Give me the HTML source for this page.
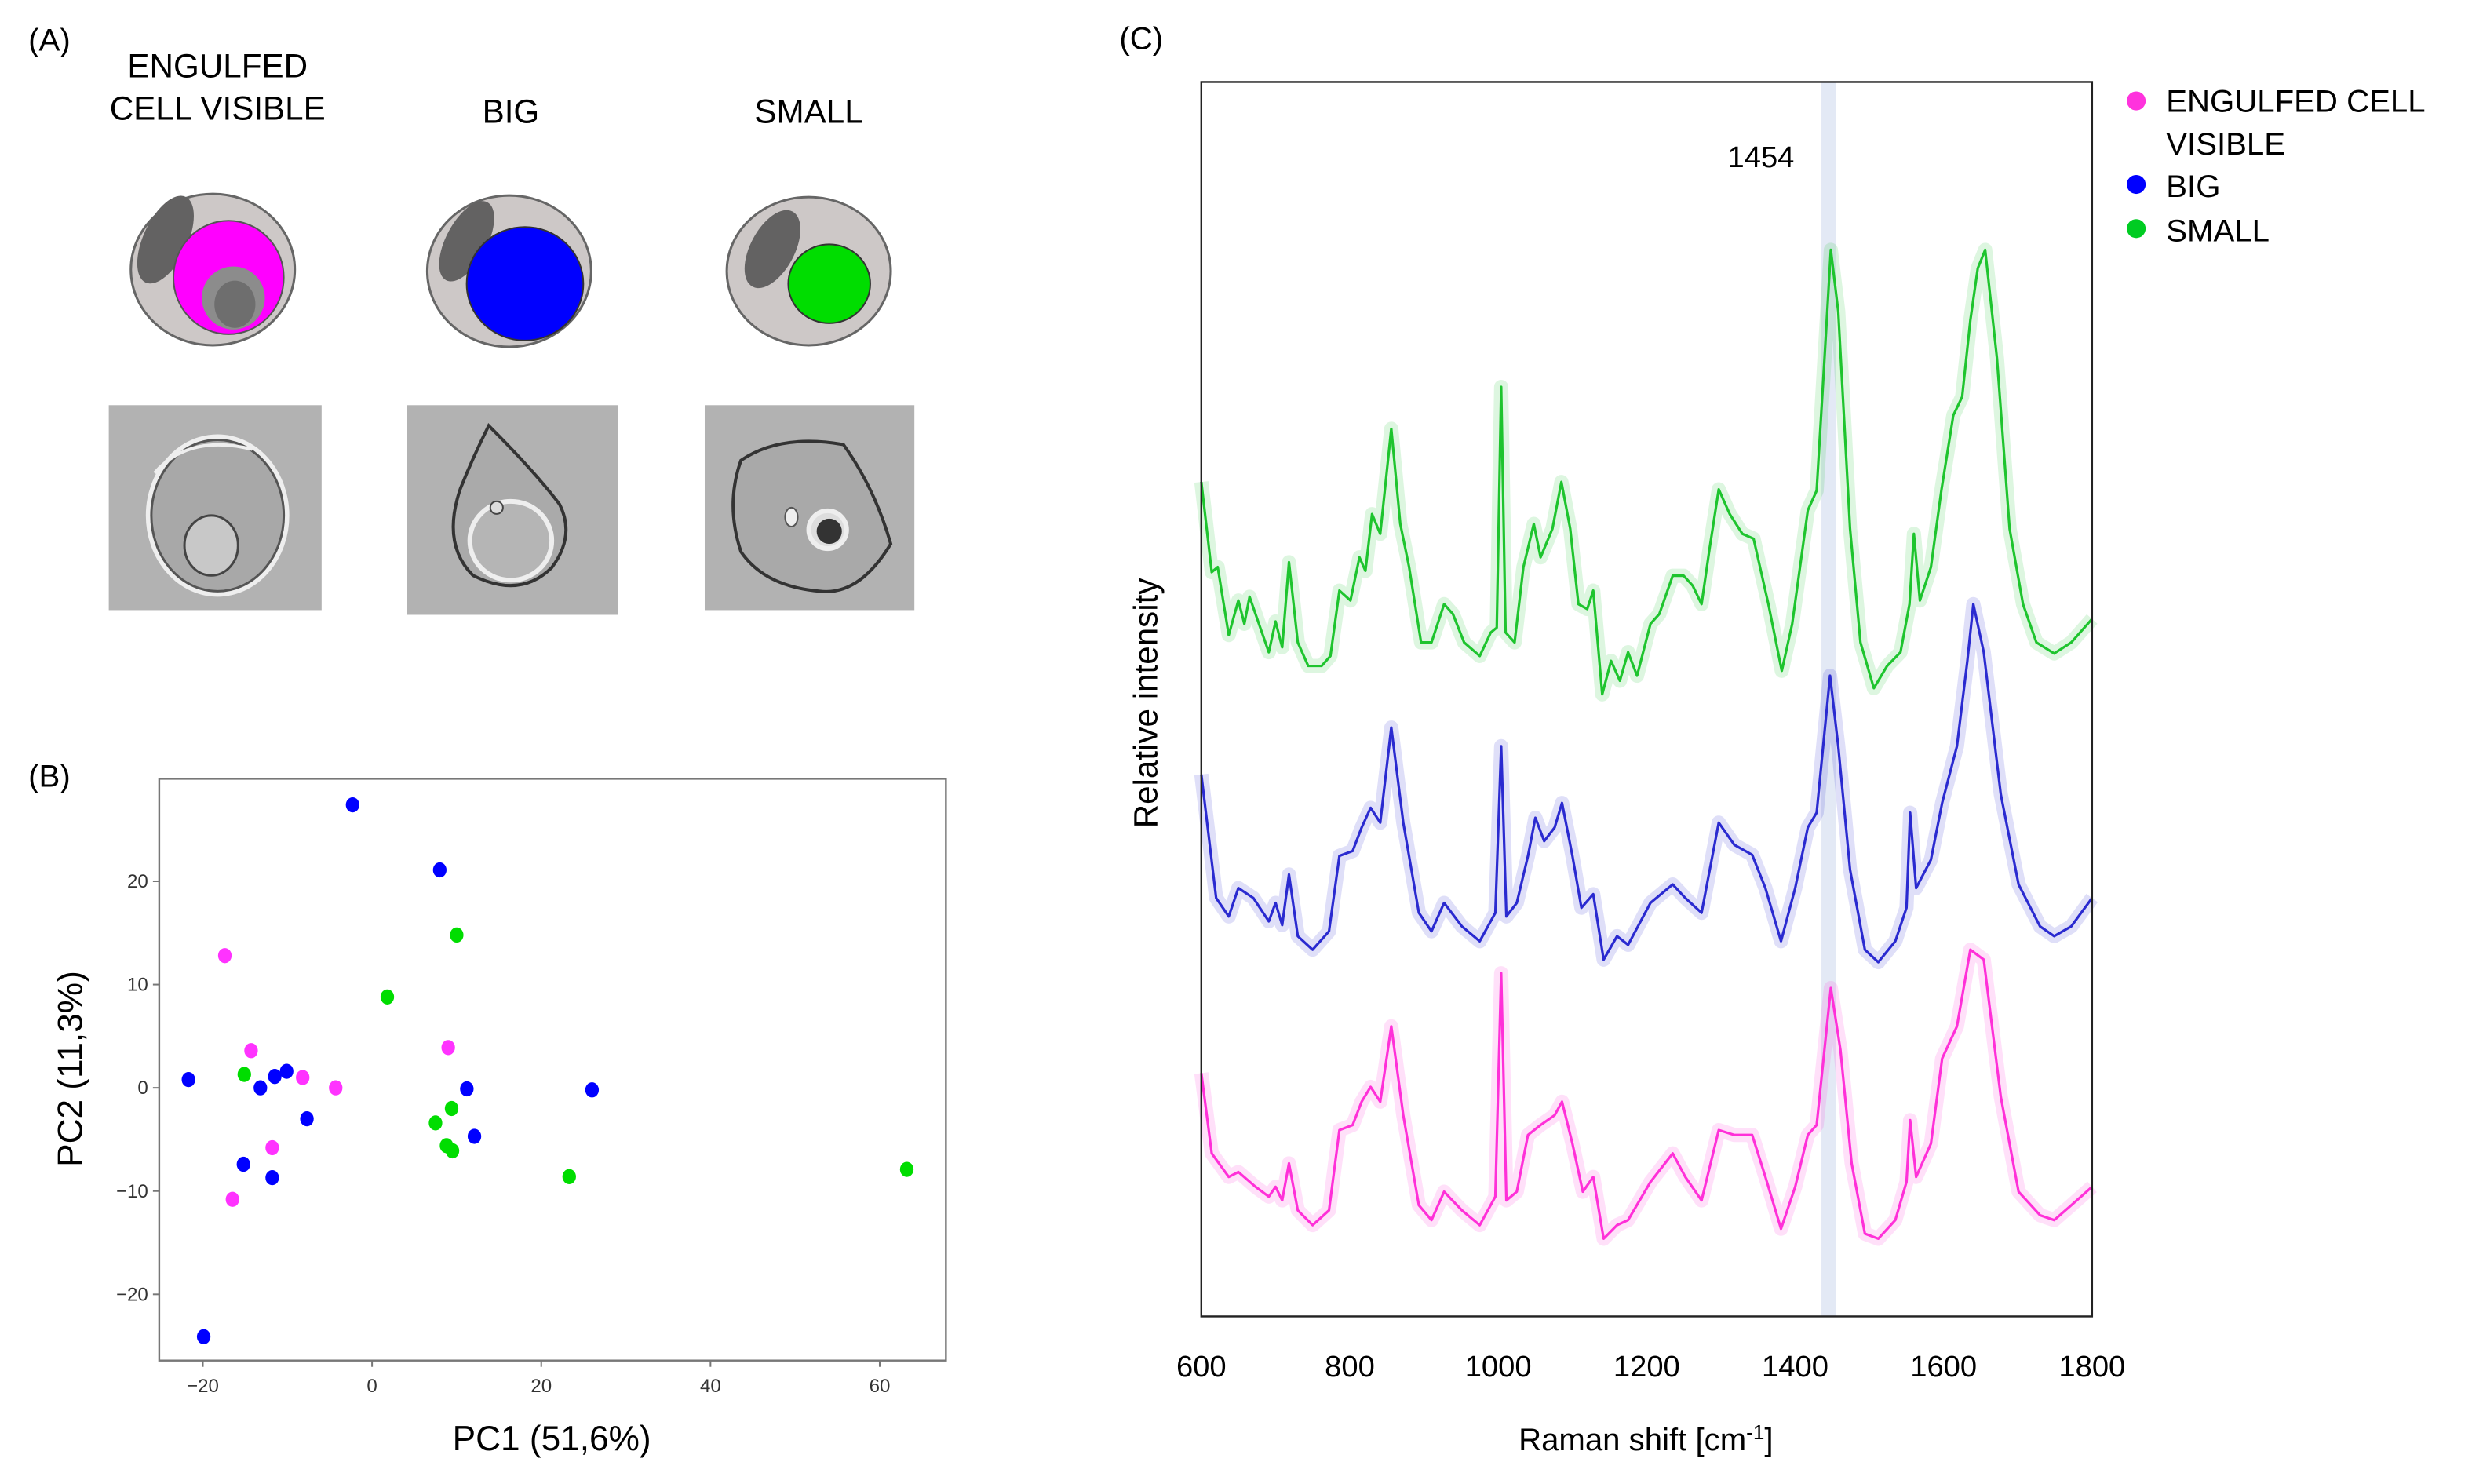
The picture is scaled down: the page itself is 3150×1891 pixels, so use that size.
<!DOCTYPE html>
<html><head><meta charset="utf-8"><style>
html,body{margin:0;padding:0;background:#fff;}
svg{display:block;font-family:"Liberation Sans",sans-serif;}
</style></head><body>
<svg id="fig" width="3150" height="1891" viewBox="0 0 1568 941.3" xmlns="http://www.w3.org/2000/svg">
<!-- Panel A -->
<g>
<text x="18" y="32" font-size="20">(A)</text>
<text x="138" y="49" font-size="21" text-anchor="middle">ENGULFED</text>
<text x="138" y="76" font-size="21" text-anchor="middle">CELL VISIBLE</text>
<text x="324" y="78" font-size="21" text-anchor="middle">BIG</text>
<text x="513" y="78" font-size="21" text-anchor="middle">SMALL</text>

<g>
<ellipse cx="135" cy="171" rx="52" ry="48" fill="#cdc8c7" stroke="#666" stroke-width="1.5"/>
<ellipse cx="105" cy="152" rx="14" ry="30" transform="rotate(25 105 152)" fill="#636262"/>
<ellipse cx="145" cy="176" rx="35" ry="36" fill="#ff00ff" stroke="#555" stroke-width="1"/>
<ellipse cx="148" cy="189" rx="20" ry="20" fill="#8c8c8c"/>
<ellipse cx="149" cy="193" rx="13" ry="15" fill="#6e6e6e"/>
</g>
<g>
<ellipse cx="323" cy="172" rx="52" ry="48" fill="#cdc8c7" stroke="#666" stroke-width="1.5"/>
<ellipse cx="296" cy="153" rx="13" ry="28" transform="rotate(28 296 153)" fill="#636262"/>
<ellipse cx="333" cy="180" rx="37" ry="36" fill="#0000ff" stroke="#333" stroke-width="1"/>
</g>
<g>
<ellipse cx="513" cy="172" rx="52" ry="47" fill="#cdc8c7" stroke="#666" stroke-width="1.5"/>
<ellipse cx="490" cy="158" rx="14" ry="27" transform="rotate(28 490 158)" fill="#636262"/>
<ellipse cx="526" cy="180" rx="26" ry="25" fill="#00dd00" stroke="#333" stroke-width="1"/>
</g>

<g>
<rect x="69" y="257" width="135" height="130" fill="#b2b2b2"/>
<ellipse cx="138" cy="327" rx="44" ry="50" fill="#a8a8a8" stroke="#eee" stroke-width="3"/>
<ellipse cx="138" cy="327" rx="42" ry="48" fill="none" stroke="#555" stroke-width="1.5"/>
<ellipse cx="134" cy="346" rx="17" ry="19" fill="#c8c8c8" stroke="#444" stroke-width="1.5"/>
<path d="M98 300 Q120 275 160 285" fill="none" stroke="#eee" stroke-width="2"/>
</g>
<g>
<rect x="258" y="257" width="134" height="133" fill="#b2b2b2"/>
<path d="M310 270 Q300 290 292 310 Q280 345 300 365 Q330 380 350 360 Q365 340 355 320 Q340 300 310 270 Z" fill="#aaa" stroke="#333" stroke-width="2"/>
<ellipse cx="324" cy="343" rx="26" ry="25" fill="#b5b5b5" stroke="#eee" stroke-width="3"/>
<circle cx="315" cy="322" r="4" fill="#ddd" stroke="#444"/>
</g>
<g>
<rect x="447" y="257" width="133" height="130" fill="#b2b2b2"/>
<path d="M470 292 Q495 275 535 282 Q555 310 565 345 Q545 378 520 375 Q485 372 470 350 Q460 320 470 292 Z" fill="#a9a9a9" stroke="#333" stroke-width="2"/>
<circle cx="525" cy="336" r="12" fill="#ddd" stroke="#eee" stroke-width="3"/>
<circle cx="526" cy="337" r="8" fill="#333"/>
<ellipse cx="502" cy="328" rx="4" ry="6" fill="#eee" stroke="#555"/>
</g>
</g>

<!-- Panel B -->
<g>
<text x="18" y="499" font-size="20">(B)</text>
<rect x="101" y="494" width="499" height="369" fill="none" stroke="#777" stroke-width="1.2"/>
<g id="bticks"></g>
<g id="bpts"></g>
<text x="350" y="920" font-size="22" text-anchor="middle">PC1 (51,6%)</text>
<text transform="translate(52 678) rotate(-90)" font-size="22" text-anchor="middle">PC2 (11,3%)</text>
</g>

<!-- Panel C -->
<g>
<text x="710" y="31" font-size="20">(C)</text>
<rect id="band" fill="#e3e9f5"/>
<g id="cser"></g>
<rect x="762" y="52" width="565" height="783" fill="none" stroke="#222" stroke-width="1.2"/>
<g id="cticks"></g>
<text x="1117" y="106" font-size="19" text-anchor="middle">1454</text>
<text x="1044" y="920" font-size="20" text-anchor="middle">Raman shift [cm<tspan dy="-7" font-size="13">-1</tspan><tspan dy="7">]</tspan></text>
<text transform="translate(734 446) rotate(-90)" font-size="21" text-anchor="middle">Relative intensity</text>
<g>
<circle cx="1355" cy="64" r="6" fill="#ff33dd"/>
<text x="1374" y="71" font-size="20">ENGULFED CELL</text>
<text x="1374" y="98" font-size="20">VISIBLE</text>
<circle cx="1355" cy="117" r="6" fill="#0000ff"/>
<text x="1374" y="125" font-size="20">BIG</text>
<circle cx="1355" cy="145" r="6" fill="#00cc22"/>
<text x="1374" y="153" font-size="20">SMALL</text>
</g>
</g>
</svg>
<script>
const NS="http://www.w3.org/2000/svg";
// ---- Panel B data ----
const pcXTicks=[-20,0,20,40,60];
const pcYTicks=[20,10,0,-10,-20];
const bigPC1=[-2.3,8.0,-21.7,-13.2,-11.5,-10.1,-7.7,-15.2,-11.8,-19.9,11.2,12.1,26.0];
const bigPC2=[27.4,21.1,0.8,0,1.1,1.6,-3.0,-7.4,-8.7,-24.1,-0.1,-4.7,-0.2];
const engPC1=[-17.4,-14.3,-8.2,-4.3,9.0,-11.8,-16.5];
const engPC2=[12.8,3.6,1.0,0,3.9,-5.8,-10.8];
const smallPC1=[10.0,1.8,-15.1,7.5,9.4,8.8,9.5,23.3,63.2];
const smallPC2=[14.8,8.8,1.3,-3.4,-2.0,-5.6,-6.1,-8.6,-7.9];
// ---- Panel C data ----
const ramanTicks=[600,800,1000,1200,1400,1600,1800];
const peakShift=[1445];
const smallW=[600,614,622,637,650,658,665,673,691,700,709,718,730,744,762,774,786,801,813,821,830,841,856,868,880,896,910,927,939,954,975,990,998,1004,1010,1022,1034,1048,1057,1073,1085,1097,1108,1120,1128,1140,1152,1164,1175,1187,1205,1217,1235,1250,1262,1274,1285,1297,1312,1329,1344,1364,1382,1396,1417,1429,1438,1448,1458,1474,1488,1506,1524,1542,1554,1560,1568,1583,1597,1613,1625,1636,1646,1656,1672,1689,1707,1725,1749,1772,1800];
const smallI=[67.6,60.3,60.7,55.2,58.0,56.1,58.3,56.9,53.8,56.3,54.2,61.1,54.6,52.7,52.7,53.5,58.8,58.0,61.5,60.4,65.0,63.4,71.9,64.2,60.7,54.6,54.6,57.7,56.9,54.6,53.5,55.4,55.8,75.3,55.4,54.6,60.7,64.2,61.5,63.8,67.6,63.8,57.7,57.3,58.8,50.4,53.1,51.5,53.8,51.9,56.1,56.9,60.0,60.0,59.2,57.7,62.3,67.0,65.0,63.4,63.0,57.7,52.3,56.1,65.3,66.9,76.1,86.4,81.4,63.8,54.6,50.9,52.7,53.8,57.7,63.4,58.0,60.7,66.9,73.0,74.5,80.7,84.9,86.4,77.6,63.8,57.7,54.6,53.7,54.6,56.5];
const bigW=[600,620,637,650,670,691,700,709,718,730,750,772,786,804,816,828,841,856,872,893,910,927,951,975,996,1004,1011,1025,1040,1050,1062,1076,1086,1100,1112,1128,1142,1160,1175,1205,1235,1252,1274,1297,1318,1342,1360,1381,1400,1417,1429,1447,1458,1474,1494,1512,1535,1550,1555,1563,1583,1598,1618,1632,1640,1654,1677,1701,1730,1749,1772,1800];
const bigI=[43.9,33.9,32.4,34.7,33.9,32.0,33.5,31.7,35.8,30.8,29.7,31.2,37.3,37.7,39.6,41.2,40.0,47.7,40.0,32.7,31.2,33.5,31.6,30.4,32.7,46.2,32.4,33.5,37.3,40.4,38.5,39.6,41.6,37.3,33.1,34.2,28.9,30.8,30.1,33.5,35.0,33.9,32.7,40.0,38.2,37.4,34.7,30.4,34.7,39.6,40.8,51.9,46.2,36.2,29.7,28.7,30.4,33.1,40.8,34.7,37.0,41.6,46.2,53.1,57.7,53.8,42.3,35.0,31.6,30.8,31.6,33.9];
const engW=[600,614,637,650,673,691,700,709,718,730,750,772,786,804,816,828,841,856,872,893,910,927,951,975,996,1004,1011,1025,1040,1057,1076,1086,1100,1114,1128,1142,1160,1175,1205,1235,1252,1274,1297,1318,1342,1360,1381,1400,1417,1429,1448,1461,1476,1494,1512,1535,1550,1555,1563,1583,1598,1618,1636,1654,1677,1701,1730,1749,1772,1800];
const engI=[19.7,13.2,11.3,11.7,10.5,9.7,10.5,9.4,12.4,8.6,7.4,8.6,15.1,15.5,17.4,18.6,17.4,23.5,16.3,9.0,7.8,10.1,8.6,7.4,9.7,27.8,9.4,10.1,14.7,15.5,16.3,17.4,14.0,10.1,11.3,6.3,7.4,7.8,10.9,13.2,11.3,9.4,15.1,14.7,14.7,11.3,7.1,10.5,14.7,15.5,26.6,21.6,12.4,6.7,6.3,7.8,10.9,15.9,11.3,14.0,20.9,23.5,29.7,28.9,17.8,10.1,8.2,7.8,9.0,10.5];

// axis functions
const bx=v=>236+v*(558-236)/60;
const by=v=>690-v*(690-559)/20;
const cx=w=>762+(w-600)*(1327-762)/1200;
const cy=i=>835-i*783/100;

const bt=document.getElementById('bticks');
pcXTicks.forEach(t=>{
  const l=document.createElementNS(NS,'line');
  
  
  l.setAttribute('x1',bx(t));l.setAttribute('x2',bx(t));l.setAttribute('y1',863);l.setAttribute('y2',867);l.setAttribute('stroke','#777');
  bt.appendChild(l);
  const s=document.createElementNS(NS,'text');
  
  
  s.setAttribute('x',bx(t));s.setAttribute('y',883);s.setAttribute('font-size','12');s.setAttribute('text-anchor','middle');s.setAttribute('fill','#333');
  s.textContent=t<0?'\u2212'+(-t):t;bt.appendChild(s);
});
pcYTicks.forEach(t=>{
  const l=document.createElementNS(NS,'line');
  
  
  l.setAttribute('x1',97);l.setAttribute('x2',101);l.setAttribute('y1',by(t));l.setAttribute('y2',by(t));l.setAttribute('stroke','#777');
  bt.appendChild(l);
  const s=document.createElementNS(NS,'text');
  
  
  s.setAttribute('x',94);s.setAttribute('y',by(t)+4);s.setAttribute('font-size','12');s.setAttribute('text-anchor','end');s.setAttribute('fill','#333');
  s.textContent=t<0?'\u2212'+(-t):t;bt.appendChild(s);
});
const bp=document.getElementById('bpts');
function pts(xs,ys,col,name){
  xs.forEach((x,i)=>{
    const c=document.createElementNS(NS,'ellipse');
    
    
    c.setAttribute('cx',bx(x));c.setAttribute('cy',by(ys[i]));c.setAttribute('rx',4.3);c.setAttribute('ry',4.8);c.setAttribute('fill',col);
    bp.appendChild(c);
  });
}
pts(bigPC1,bigPC2,'#0000ff','point-big');
pts(engPC1,engPC2,'#ff33ff','point-engulfed');
pts(smallPC1,smallPC2,'#00dd00','point-small');

// Panel C
const band=document.getElementById('band');
band.setAttribute('x',cx(peakShift[0])-4.5);band.setAttribute('width',9);band.setAttribute('y',52);band.setAttribute('height',783);
const cs=document.getElementById('cser');
function series(W,I,col,name){
  const d=W.map((w,i)=>(i?'L':'M')+cx(w).toFixed(1)+' '+cy(I[i]).toFixed(1)).join(' ');
  const sh=document.createElementNS(NS,'path');
  
  
  sh.setAttribute('d',d);sh.setAttribute('fill','none');sh.setAttribute('stroke',col);sh.setAttribute('stroke-opacity','0.15');sh.setAttribute('stroke-width','9');sh.setAttribute('stroke-linejoin','round');
  cs.appendChild(sh);
  const p=document.createElementNS(NS,'path');
  
  
  p.setAttribute('d',d);p.setAttribute('fill','none');p.setAttribute('stroke',col);p.setAttribute('stroke-width','1.6');p.setAttribute('stroke-linejoin','round');
  cs.appendChild(p);
}
series(smallW,smallI,'#1ec42e','spectrum-small');
series(bigW,bigI,'#2a2ad0','spectrum-big');
series(engW,engI,'#ff30d8','spectrum-engulfed');
const ct=document.getElementById('cticks');
ramanTicks.forEach(t=>{
  const s=document.createElementNS(NS,'text');
  
  
  s.setAttribute('x',cx(t));s.setAttribute('y',873);s.setAttribute('font-size','19');s.setAttribute('text-anchor','middle');
  s.textContent=t;ct.appendChild(s);
});
</script>
</body></html>
